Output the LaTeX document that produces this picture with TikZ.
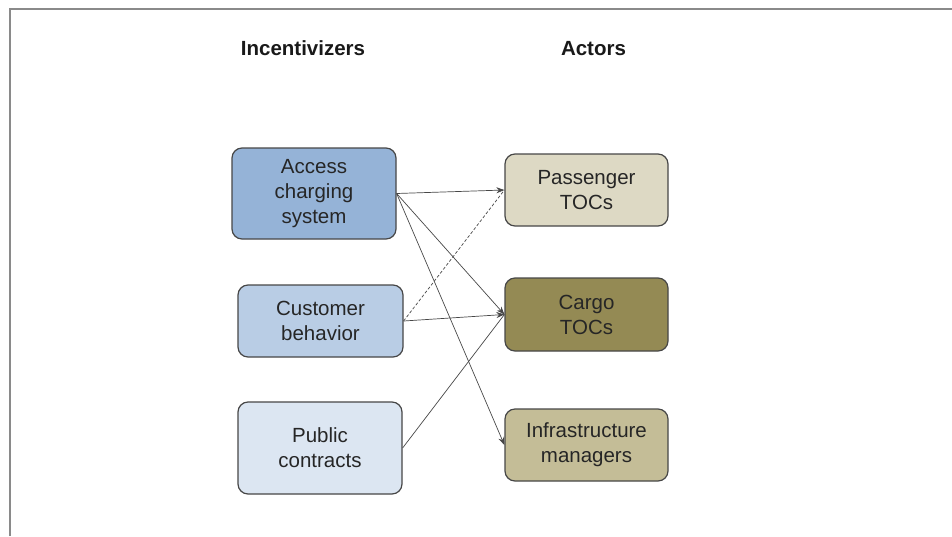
\documentclass[tikz,border=0pt]{standalone}
\usepackage{fontspec}
\setmainfont{Liberation Sans}
\usetikzlibrary{arrows.meta}
\definecolor{frameg}{HTML}{8A8A8A}
\definecolor{edgeg}{HTML}{474747}
\definecolor{blueA}{HTML}{95B3D7}
\definecolor{blueB}{HTML}{B9CDE5}
\definecolor{blueC}{HTML}{DCE6F2}
\definecolor{tanA}{HTML}{DDD9C4}
\definecolor{tanB}{HTML}{948A54}
\definecolor{tanC}{HTML}{C4BD97}
\tikzset{
  box/.style={draw=edgeg, line width=1.2pt, rounded corners=10pt, inner sep=0pt,
    align=center, font=\fontsize{20.5}{25}\selectfont, text=black!85},
  title/.style={font=\bfseries\fontsize{20.5}{24}\selectfont, text=black!90, anchor=base},
  conn/.style={draw=edgeg, line width=0.7pt},
  arr/.style={conn, -{Stealth[length=8pt,width=6pt]}},
}
\begin{document}
\begin{tikzpicture}[x=1pt,y=-1pt]
\useasboundingbox (0,0) rectangle (952,536);
\fill[white] (0,0) rectangle (952,536);
\draw[frameg, line width=1.6pt] (10,536) -- (10,9) -- (952,9);
\node[title] (tin) at (303,55) {Incentivizers};
\node[title] (tac) at (593.5,55) {Actors};
\node[box, fill=blueA, minimum width=164pt, minimum height=91pt] (acs) at (314,193.5) {Access\\charging\\system};
\node[box, fill=blueB, minimum width=165pt, minimum height=72pt] (cub) at (320.5,321) {Customer\\behavior};
\node[box, fill=blueC, minimum width=164pt, minimum height=92pt] (puc) at (320,448) {Public\\contracts};
\node[box, fill=tanA, minimum width=163pt, minimum height=72pt] (pas) at (586.5,190) {Passenger\\TOCs};
\node[box, fill=tanB, minimum width=163pt, minimum height=73pt] (car) at (586.5,314.5) {Cargo\\TOCs};
\node[box, fill=tanC, minimum width=163pt, minimum height=72pt] (inf) at (586.5,445) {Infrastructure\\managers};
\draw[conn, dashed, dash pattern=on 3pt off 2pt] (cub.east) -- (pas.west);
\draw[conn] (puc.east) -- (car.west);
\draw[arr] (acs.east) -- (pas.west);
\draw[arr] (acs.east) -- (car.west);
\draw[arr] (acs.east) -- (inf.west);
\draw[arr] (cub.east) -- (car.west);
\end{tikzpicture}
\end{document}
